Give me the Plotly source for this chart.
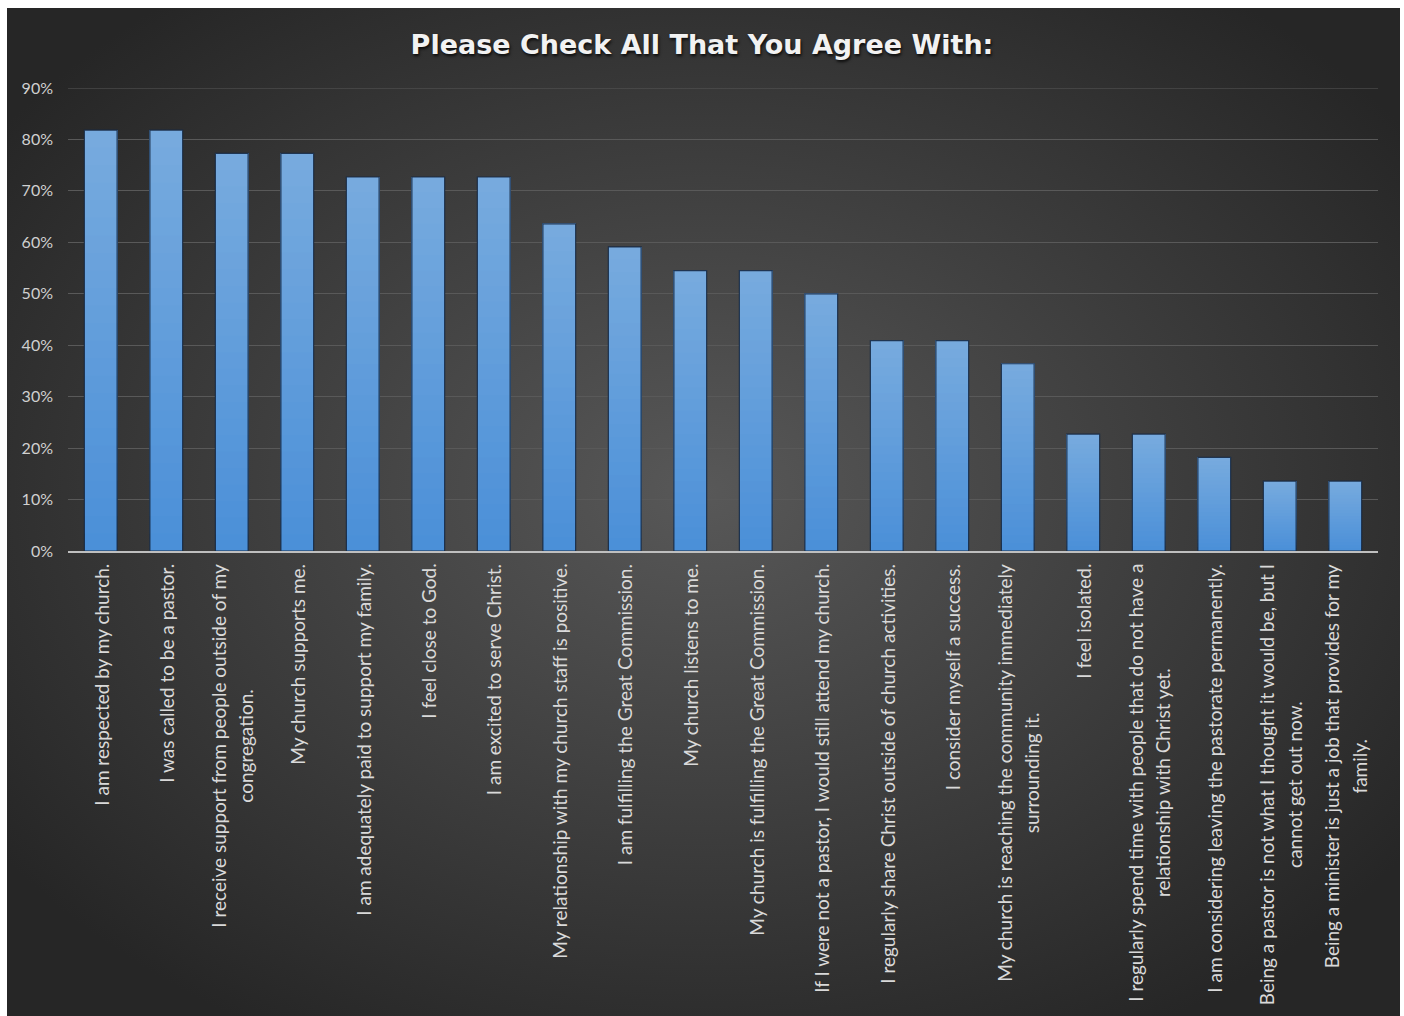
import base64
import plotly.graph_objects as go

# Survey statements (line breaks where the label wraps) and share who agreed, in %
statements = [
    "I am respected by my church.",
    "I was called to be a pastor.",
    "I receive support from people outside of my<br>congregation.",
    "My church supports me.",
    "I am adequately paid to support my family.",
    "I feel close to God.",
    "I am excited to serve Christ.",
    "My relationship with my church staff is positive.",
    "I am fulfilling the Great Commission.",
    "My church listens to me.",
    "My church is fulfilling the Great Commission.",
    "If I were not a pastor, I would still attend my church.",
    "I regularly share Christ outside of church activities.",
    "I consider myself a success.",
    "My church is reaching the community immediately<br>surrounding it.",
    "I feel isolated.",
    "I regularly spend time with people that do not have a<br>relationship with Christ yet.",
    "I am considering leaving the pastorate permanently.",
    "Being a pastor is not what I thought it would be, but I<br>cannot get out now.",
    "Being a minister is just a job that provides for my<br>family.",
]
percent_agree = [81.8, 81.8, 77.3, 77.3, 72.7, 72.7, 72.7, 63.6, 59.1, 54.5,
                 54.5, 50.0, 40.9, 40.9, 36.4, 22.7, 22.7, 18.2, 13.6, 13.6]
y_ticks = [0, 10, 20, 30, 40, 50, 60, 70, 80, 90]
y_tick_labels = ["0%", "10%", "20%", "30%", "40%", "50%", "60%", "70%", "80%", "90%"]

W, H = 1404, 1016
M_L, M_R, M_T, M_B = 68, 26, 88, 465
PLOT_W = W - M_L - M_R
PLOT_H = H - M_T - M_B
GRID_COLOR = "#595959"

fig = go.Figure()

# Vertical gradient inside each bar: overlapping layers, each from a fraction
# of the bar height up to the bar top, lighter towards the top.
BOTTOM_RGB = (0x4A, 0x8F, 0xD8)
TOP_RGB = (0x78, 0xAB, 0xDE)
N_LAYERS = 24
for k in range(N_LAYERS):
    t = (k + 0.5) / N_LAYERS
    rgb = tuple(round(b + (u - b) * t) for b, u in zip(BOTTOM_RGB, TOP_RGB))
    base = [v * k / N_LAYERS for v in percent_agree]
    fig.add_trace(go.Bar(
        x=statements,
        y=[v - b for v, b in zip(percent_agree, base)],
        base=base,
        width=0.5,
        marker=dict(color="rgb(%d,%d,%d)" % rgb, line=dict(width=0)),
        hoverinfo="skip",
        showlegend=False,
    ))

# Outline of each bar
fig.add_trace(go.Bar(
    x=statements,
    y=percent_agree,
    width=0.5,
    marker=dict(color="rgba(0,0,0,0)", line=dict(color="rgba(22,40,66,0.9)", width=1.2)),
    hovertemplate="%{y:.1f}%<extra></extra>",
    showlegend=False,
))

# Category labels, rotated, centred under each bar
for s in statements:
    lines = s.split("<br>")
    txt = "<br>".join("<span style='font-size:19px'>%s</span>" % ln for ln in lines)
    fig.add_annotation(
        x=s, y=0, xref="x", yref="paper",
        xanchor="center", yanchor="top", yshift=-11,
        textangle=-90, align="center", showarrow=False,
        text=txt,
        font=dict(family="Lato", size=21, color="#d9d9d9"),
    )

# Gridline at the top of the value range (sits on the plot edge)
fig.add_shape(
    type="line", xref="paper", yref="y",
    x0=0, x1=1, y0=y_ticks[-1], y1=y_ticks[-1],
    line=dict(color=GRID_COLOR, width=1), layer="below",
)

# Dark radial-gradient chart background
svg = (
    "<svg xmlns='http://www.w3.org/2000/svg' width='1393' height='1008' "
    "preserveAspectRatio='none' viewBox='0 0 1393 1008'>"
    "<defs><radialGradient id='g' cx='0.5' cy='0.48' r='0.62'>"
    "<stop offset='0' stop-color='#585858'/>"
    "<stop offset='1' stop-color='#262626'/>"
    "</radialGradient></defs>"
    "<rect width='1393' height='1008' fill='url(#g)'/></svg>"
)
bg_src = "data:image/svg+xml;base64," + base64.b64encode(svg.encode()).decode()
fig.add_layout_image(
    source=bg_src, xref="paper", yref="paper",
    x=(7 - M_L) / PLOT_W, y=(H - M_B - 8) / PLOT_H,
    sizex=(1400 - 7) / PLOT_W, sizey=(H - 8) / PLOT_H,
    xanchor="left", yanchor="top", sizing="stretch", layer="below",
)

fig.update_layout(
    width=W, height=H,
    margin=dict(l=M_L, r=M_R, t=M_T, b=M_B, autoexpand=False),
    paper_bgcolor="white",
    plot_bgcolor="rgba(0,0,0,0)",
    barmode="overlay",
    title=dict(
        text="Please Check All That You Agree With:",
        x=0.5, xref="container", xanchor="center",
        y=1 - 45 / H, yref="container", yanchor="middle",
        font=dict(family="DejaVu Sans", size=27, color="#f2f2f2", weight="bold",
                  shadow="1px 2px 3px rgba(0,0,0,0.8)"),
    ),
    xaxis=dict(
        showticklabels=False, showgrid=False, zeroline=False,
        showline=True, linecolor="#bfbfbf", linewidth=2,
        range=[-0.5, len(statements) - 0.5], fixedrange=True,
    ),
    yaxis=dict(
        range=[0, 90], tickmode="array",
        tickvals=y_ticks, ticktext=y_tick_labels,
        showgrid=True, gridcolor=GRID_COLOR, gridwidth=1,
        zeroline=False, showline=False, ticks="",
        ticklabelstandoff=14,
        tickfont=dict(family="Lato", size=16, color="#d0d0d0"),
        fixedrange=True,
    ),
)

fig.write_html("out.html")
